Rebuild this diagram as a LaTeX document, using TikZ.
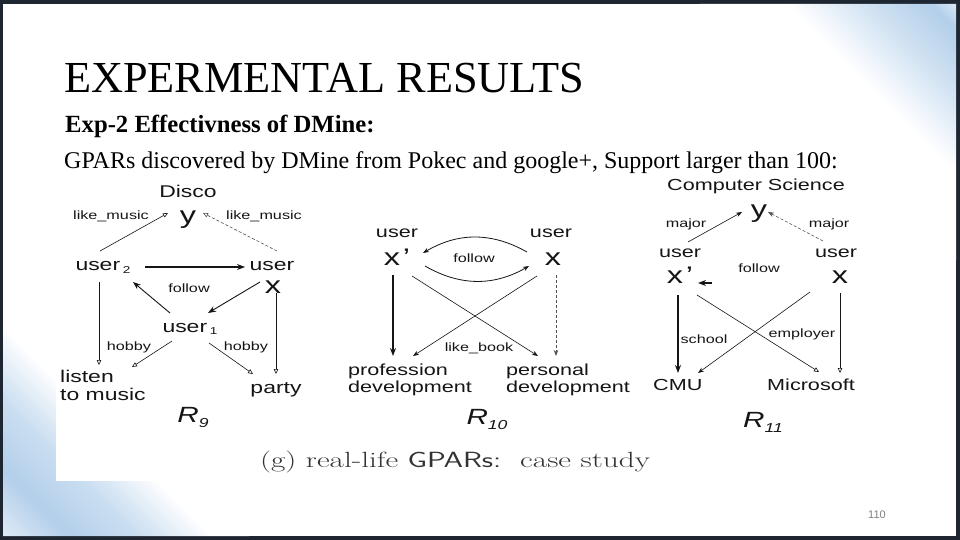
\documentclass[tikz,border=0pt]{standalone}
\usepackage{fontspec}
\newfontfamily\slidefont{Liberation Serif}
\newfontfamily\dfont[FakeStretch=1.35]{Liberation Sans}
\newfontfamily\numfont{Liberation Sans}
\usetikzlibrary{arrows.meta}
\definecolor{framec}{HTML}{1E2631}
\definecolor{sbl}{HTML}{B3CFEA}
\definecolor{ink}{HTML}{151515}
\definecolor{dashc}{HTML}{505050}
\pgfdeclarehorizontalshading{trstreak}{100bp}{color(0bp)=(white); color(62bp)=(white); color(74bp)=(sbl!65); color(82bp)=(sbl); color(87bp)=(white!70!sbl); color(89bp)=(white); color(93bp)=(white!40!sbl); color(100bp)=(sbl)}
\pgfdeclarehorizontalshading{blstreak}{100bp}{color(0bp)=(white); color(55bp)=(white); color(66bp)=(sbl!70); color(76bp)=(sbl); color(86bp)=(white!60!sbl); color(90bp)=(white); color(95bp)=(white!50!sbl); color(100bp)=(sbl)}
\begin{document}
\begin{tikzpicture}[x=1pt,y=-1pt,
  lab/.style={inner sep=0pt, anchor=base, text=ink, font=\dfont\fontsize{16}{17}\selectfont},
  labb/.style={lab, font=\dfont\fontsize{17}{18}\selectfont},
  sm/.style={inner sep=0pt, anchor=base, text=ink, font=\dfont\fontsize{12}{12}\selectfont},
  var/.style={inner sep=0pt, anchor=base, text=ink, font=\dfont\fontsize{24}{24}\selectfont},
  rlab/.style={inner sep=0pt, anchor=base, text=ink, font=\dfont\itshape\fontsize{22}{22}\selectfont},
  openarr/.style={draw=ink, line width=0.6pt, -{Triangle[open, length=5pt, width=4.5pt]}},
  fine/.style={draw=ink, line width=0.6pt, -{Stealth[length=6pt, width=4.5pt]}},
  heavy/.style={draw=ink, line width=1.1pt, -{Stealth[length=8pt, width=6pt]}},
  dsh/.style={dash pattern=on 3pt off 2pt, draw=dashc},
  slide/.style={inner sep=0pt, anchor=base west, text=black}]
\useasboundingbox (0,0) rectangle (960,540);
% slide background
\fill[framec] (0,0) rectangle (960,540);
\fill[white] (3,4) rectangle (956,536);
\shade[shading=trstreak, shading angle=45] (700,4) -- (956,4) -- (956,260) -- cycle;
\shade[shading=blstreak, shading angle=225] (3,290) -- (3,536) -- (249,536) -- cycle;
\fill[white] (56,176) rectangle (872,481);
% slide texts
\node[slide, font=\slidefont\fontsize{44.3}{44}\selectfont] (title) at (64,93) {EXPERMENTAL RESULTS};
\node[slide, font=\slidefont\bfseries\fontsize{24.7}{25}\selectfont] (sub) at (65,133) {Exp-2 Effectivness of DMine:};
\node[slide, font=\slidefont\fontsize{24}{24}\selectfont] (body) at (64,168) {GPARs discovered by DMine from Pokec and google+, Support larger than 100:};
\node[inner sep=0pt, anchor=base, text=black!50, font=\numfont\fontsize{11}{11}\selectfont] (pnum) at (877,518) {110};
% ---------- R9 ----------
\node[labb] (disco) at (188,197) {Disco};
\node[var] (y9) at (188,223) {y};
\node[sm] (lm1) at (111,219) {like\_music};
\node[sm] (lm2) at (264,219) {like\_music};
\node[labb] (u2) at (103,270) {user\,\raisebox{-3pt}{\fontsize{10}{10}\selectfont 2}};
\node[labb] (ux) at (272,270) {user};
\node[var] (xx) at (273,293) {x};
\node[sm] (fol9) at (189,292) {follow};
\node[labb] (u1) at (190,332) {user\,\raisebox{-2pt}{\fontsize{10}{10}\selectfont 1}};
\node[sm] (hob1) at (129,350) {hobby};
\node[sm] (hob2) at (246,350) {hobby};
\node[labb, anchor=base west, align=left] (listen) at (60,400) {listen\\to music};
\node[labb] (party) at (276,393) {party};
\node[rlab] (r9) at (193,422) {R\raisebox{-5pt}{\fontsize{13}{13}\selectfont 9}};
\draw[openarr] ([shift={(-3,-19)}]u2.base) -- ([shift={(-20,-10)}]y9.base);
\draw[openarr, dsh] ([shift={(5,-19)}]ux.base) -- ([shift={(15,-10)}]y9.base);
\draw[heavy] ([shift={(42,-3)}]u2.base) -- ([shift={(-27,-3)}]ux.base);
\draw[heavy, line width=0.9pt] ([shift={(-20,-19)}]u1.base) -- ([shift={(30,12)}]u2.base);
\draw[heavy, line width=0.9pt] ([shift={(-13,-11)}]xx.base) -- ([shift={(18,-19)}]u1.base);
\draw[openarr] ([shift={(-4,12)}]u2.base) -- ([shift={(39,-35)}]listen.base west);
\draw[openarr] ([shift={(3,0)}]xx.base) -- ([shift={(0,-19)}]party.base);
\draw[openarr] ([shift={(-18,9)}]u1.base) -- ([shift={(72,-33)}]listen.base west);
\draw[openarr] ([shift={(19,11)}]u1.base) -- ([shift={(-23,-19)}]party.base);
% ---------- R10 ----------
\node[lab] (uxp) at (397,237) {user};
\node[var] (xp) at (397,265) {x\hspace{3pt}’};
\node[lab] (ux10) at (551,237) {user};
\node[var] (x10) at (553,265) {x};
\node[sm] (fol10) at (474,262) {follow};
\node[lab, anchor=base west, align=left] (prof) at (348,392) {profession\\development};
\node[lab, anchor=base west, align=left] (pers) at (506,392) {personal\\development};
\node[sm] (lb) at (479,351) {like\_book};
\node[rlab] (r10) at (487,424) {R\raisebox{-5pt}{\fontsize{13}{13}\selectfont 10}};
\draw[fine, line width=0.8pt] ([shift={(-26,-13)}]x10.base) to[bend right=30] ([shift={(26,-12)}]xp.base);
\draw[fine, line width=0.8pt] ([shift={(28,1)}]xp.base) to[bend right=30] ([shift={(-24,1)}]x10.base);
\draw[heavy] ([shift={(-4,10)}]xp.base) -- ([shift={(45,-36)}]prof.base west);
\draw[fine] ([shift={(15,11)}]xp.base) -- ([shift={(32,-36)}]pers.base west);
\draw[fine] ([shift={(-16,11)}]x10.base) -- ([shift={(65,-36)}]prof.base west);
\draw[fine, dsh, line width=0.9pt] ([shift={(3,10)}]x10.base) -- ([shift={(50,-36)}]pers.base west);
% ---------- R11 ----------
\node[lab] (cs) at (756,190) {Computer Science};
\node[var] (y11) at (759,217) {y};
\node[sm] (maj1) at (686,227) {major};
\node[sm] (maj2) at (829,227) {major};
\node[lab] (uxp11) at (680,257) {user};
\node[var] (xp11) at (680,283) {x\hspace{3pt}’};
\node[lab] (ux11) at (836,257) {user};
\node[var] (x11) at (840,283) {x};
\node[sm] (fol11) at (759,272) {follow};
\node[sm] (school) at (704,343) {school};
\node[sm] (empl) at (802,337) {employer};
\node[lab, anchor=base west] (cmu) at (653,390) {CMU};
\node[lab, anchor=base west] (ms) at (767,390) {Microsoft};
\node[rlab] (r11) at (763,427) {R\raisebox{-5pt}{\fontsize{13}{13}\selectfont 11}};
\draw[fine] ([shift={(8,-15)}]uxp11.base) -- ([shift={(-17,-5)}]y11.base);
\draw[fine, dsh] ([shift={(-13,-16)}]ux11.base) -- ([shift={(9,-5)}]y11.base);
\draw[heavy, shorten <=128pt] (x11.base) -- ([shift={(18,0)}]xp11.base);
\draw[heavy] ([shift={(-2,12)}]xp11.base) -- ([shift={(25,-17)}]cmu.base west);
\draw[fine] ([shift={(-30,9)}]x11.base) -- ([shift={(45,-17)}]cmu.base west);
\draw[openarr] ([shift={(17,12)}]xp11.base) -- ([shift={(52,-18)}]ms.base west);
\draw[openarr] ([shift={(0,10)}]x11.base) -- ([shift={(73,-17)}]ms.base west);
% caption
\node[inner sep=0pt, anchor=base, text=black!80, font=\rmfamily\fontsize{22}{22}\selectfont] (cap) at (455,467) {\scalebox{1.42}[1]{(g) real-life \textsf{GPARs:}\ \ case study}};
\end{tikzpicture}
\end{document}
